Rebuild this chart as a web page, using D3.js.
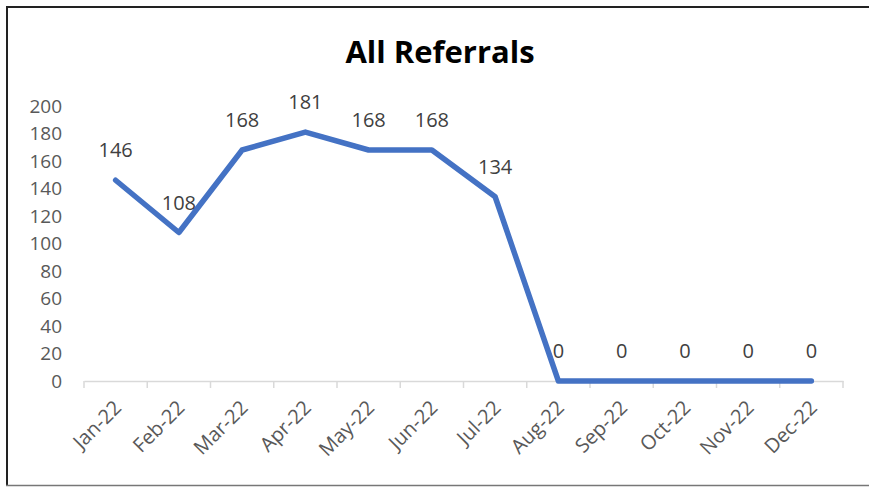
<!DOCTYPE html>
<html>
<head>
<meta charset="utf-8">
<script src="https://cdn.jsdelivr.net/npm/d3@7"></script>
<style>
  html, body { margin: 0; padding: 0; background: #fff; }
  svg { display: block; font-family: "Open Sans", "Noto Sans", sans-serif; }
</style>
</head>
<body>
<svg id="chart" width="869" height="487"></svg>
<script>
// chart data
var months = ['Jan-22','Feb-22','Mar-22','Apr-22','May-22','Jun-22',
              'Jul-22','Aug-22','Sep-22','Oct-22','Nov-22','Dec-22'];
var referrals = [146, 108, 168, 181, 168, 168, 134, 0, 0, 0, 0, 0];
var yTicks = [0, 20, 40, 60, 80, 100, 120, 140, 160, 180, 200];
var chartTitle = 'All Referrals';

var svg = d3.select('#chart');
var W = 869, H = 487;

// frame (top/left/bottom visible, right side cut off)
svg.append('line').attr('x1', 6).attr('x2', W).attr('y1', 7).attr('y2', 7)
    .attr('stroke', '#222').attr('stroke-width', 2);
svg.append('line').attr('x1', 7).attr('x2', 7).attr('y1', 6).attr('y2', 486)
    .attr('stroke', '#222').attr('stroke-width', 2);
svg.append('line').attr('x1', 6).attr('x2', W).attr('y1', 485.5).attr('y2', 485.5)
    .attr('stroke', '#777').attr('stroke-width', 1.5);

var x = d3.scaleBand().domain(months).range([84, 843]);
var y = d3.scaleLinear().domain([0, 200]).range([381, 106]);

svg.append('text')
    .attr('x', 440).attr('y', 63)
    .attr('text-anchor', 'middle')
    .attr('font-size', 31).attr('font-weight', 'bold')
    .attr('fill', '#000')
    .text(chartTitle);

// y axis labels, no line
var yAxis = svg.append('g').attr('transform', 'translate(' + 70 + ',0)')
    .call(d3.axisLeft(y).tickValues(yTicks).tickSize(0).tickPadding(8));
yAxis.select('.domain').remove();
yAxis.selectAll('text').attr('font-size', 19).attr('fill', '#595959')
    .attr('font-family', '"Open Sans", sans-serif');

// x axis
var xAxis = svg.append('g').attr('transform', 'translate(0,' + y(0) + ')')
    .call(d3.axisBottom(x).tickSize(0).tickPadding(0));
xAxis.select('.domain').attr('stroke', '#d9d9d9').attr('stroke-width', 1.5);
// boundary ticks between categories
var bounds = months.map(function(m){ return x(m); }).concat([x.range()[1]]);
xAxis.selectAll('.bound').data(bounds).enter().append('line')
    .attr('class', 'bound')
    .attr('x1', function(d){ return d; }).attr('x2', function(d){ return d; })
    .attr('y1', 0).attr('y2', 7)
    .attr('stroke', '#d9d9d9').attr('stroke-width', 1.5);
xAxis.selectAll('.tick text')
    .attr('font-size', 20).attr('fill', '#595959')
    .attr('font-family', '"Open Sans", sans-serif')
    .attr('text-anchor', 'end')
    .attr('x', 0).attr('y', 0).attr('dy', 0)
    .attr('transform', 'translate(7,28) rotate(-45)');

var cx = function(d, i){ return x(months[i]) + x.bandwidth() / 2; };

var line = d3.line()
    .x(function(d, i){ return cx(d, i); })
    .y(function(d){ return y(d); });

svg.append('path')
    .datum(referrals)
    .attr('d', line)
    .attr('fill', 'none')
    .attr('stroke', '#4472C4')
    .attr('stroke-width', 5.5)
    .attr('stroke-linejoin', 'round')
    .attr('stroke-linecap', 'round');

svg.selectAll('.lbl').data(referrals).enter().append('text')
    .attr('class', 'lbl')
    .attr('x', cx)
    .attr('y', function(d){ return y(d) - 23; })
    .attr('text-anchor', 'middle')
    .attr('font-size', 20).attr('fill', '#404040')
    .text(function(d){ return d; });
</script>
</body>
</html>
